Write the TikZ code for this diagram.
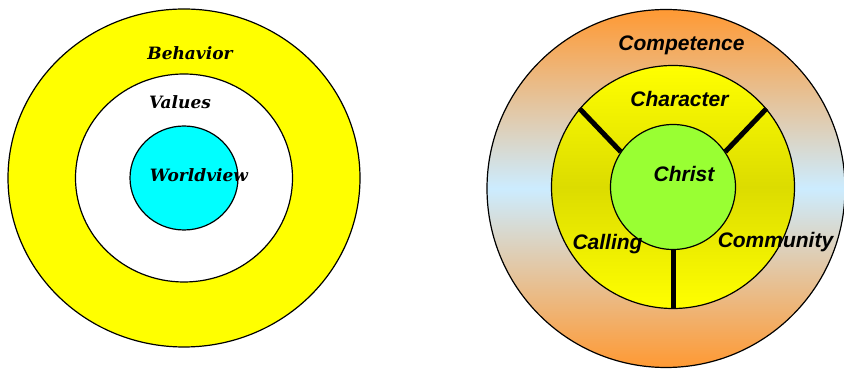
\documentclass[tikz,border=0pt]{standalone}
\usepackage{fontspec}
\setmainfont{Liberation Sans}
\newfontfamily\wvserif{DejaVu Serif}
\usetikzlibrary{shapes.geometric}
\definecolor{ringyellow}{HTML}{FFFF00}
\definecolor{coreyellow}{HTML}{DCDC00}
\definecolor{viewcyan}{HTML}{00FFFF}
\definecolor{christgreen}{HTML}{99FF33}
\definecolor{comporange}{HTML}{FF9933}
\definecolor{compblue}{HTML}{CCECFF}

\begin{document}
\begin{tikzpicture}[
  x=1pt, y=1pt,
  ring/.style={draw=black, line width=1.2pt, inner sep=0pt},
  serif/.style={font=\wvserif\bfseries\itshape\fontsize{17}{17}\selectfont, anchor=base},
  sans/.style={font=\bfseries\itshape\fontsize{21}{21}\selectfont, anchor=base},
  spoke/.style={line width=5pt},
]
\useasboundingbox (0,0) rectangle (844,369);

% Left: worldview rings
\node[ring, ellipse, fill=ringyellow, minimum width=352pt, minimum height=338pt] (behavior) at (184, 191) {};
\node[ring, ellipse, fill=white, minimum width=217pt, minimum height=208pt] (values) at (184, 191) {};
\node[ring, ellipse, fill=viewcyan, minimum width=108pt, minimum height=104pt] (worldview) at (184, 191) {};

\node[serif] (behaviortxt) at (190, 309) {Behavior};
\node[serif] (valuestxt) at (180, 260) {Values};
\node[serif] (worldviewtxt) at (199, 187) {Worldview};

% Right: Christ at the centre
\node[ring, circle, top color=comporange, bottom color=comporange, middle color=compblue, minimum size=358pt] (competence) at (666, 180.5) {};
\node[ring, circle, top color=ringyellow, bottom color=ringyellow, middle color=coreyellow, minimum size=243pt] (core) at (673, 182) {};
\node[ring, circle, fill=christgreen, minimum size=125pt] (christ) at (673, 182) {};

% Spokes
\draw[spoke] (christ.146) -- (core.140);
\draw[spoke] (christ.34) -- (core.40);
\draw[spoke] (christ.270) -- (core.270);

\node[sans] (competencetxt) at (681.5, 318) {Competence};
\node[sans] (charactertxt) at (679.5, 262) {Character};
\node[sans] (christtxt) at (684, 187) {Christ};
\node[sans] (callingtxt) at (607.5, 119) {Calling};
\node[sans] (communitytxt) at (775.5, 121) {Community};

\end{tikzpicture}
\end{document}
